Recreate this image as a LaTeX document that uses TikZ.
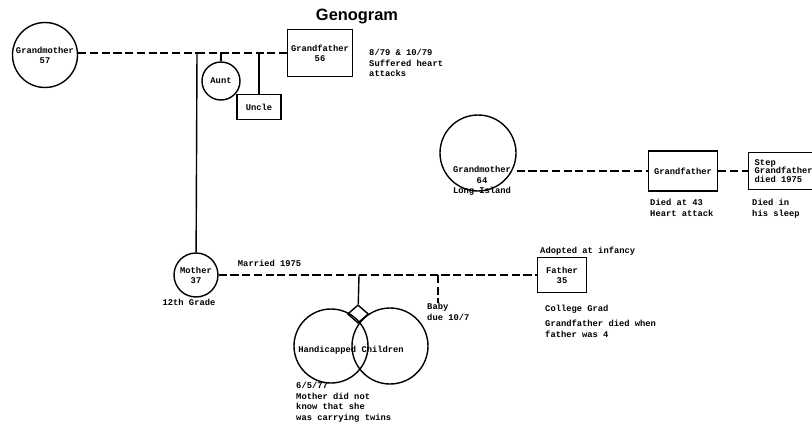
\documentclass[tikz,border=0pt]{standalone}
\usepackage{fontspec}
\setmainfont{Liberation Sans}
\setmonofont{Liberation Mono}
\usetikzlibrary{shapes.geometric,positioning}

\begin{document}
\begin{tikzpicture}[
    x=0.03cm,y=-0.03cm,
    female/.style={draw,circle,line width=1.2pt,inner sep=0pt,align=center,
        font=\fontsize{7.5}{8.5}\selectfont\ttfamily\bfseries},
    male/.style={draw,rectangle,line width=1.2pt,inner sep=2pt,align=center,
        font=\fontsize{7.5}{8.5}\selectfont\ttfamily\bfseries},
    note/.style={align=left,inner sep=0pt,
        font=\fontsize{7.5}{9}\selectfont\ttfamily\bfseries},
    tie/.style={line width=1.2pt,dash pattern=on 7pt off 3pt},
    kin/.style={line width=1.2pt}
]
\useasboundingbox (0,0) rectangle (812,424);

\node[font=\fontsize{14}{16}\selectfont\bfseries] (title) at (357,17) {Genogram};

% mother's parents
\node[female,minimum size=1.95cm] (gm57) at (45,55) {Grandmother\\57};
\node[male,minimum width=1.95cm,minimum height=1.41cm] (gf56) at (320,53) {Grandfather\\56};
\node[note,anchor=north west] (gf56n) at (369,49) {8/79 \& 10/79\\Suffered heart\\attacks};
\coordinate (jm) at (197,53);
\node[female,minimum size=1.14cm] (aunt) at (221,81) {Aunt};
\node[male,minimum width=1.32cm,minimum height=0.75cm] (uncle) at (259,107) {Uncle};
\draw[tie] (gm57.east |- jm) -- (jm);
\draw[tie] (jm) -- (gf56);
\draw[kin] (aunt.north |- jm) -- (aunt);
\draw[kin] (uncle.north |- jm) -- (uncle);

% father's parents
\node[female,minimum size=2.28cm] (gm64) at (478,153) {};
\node[note,align=center] (gm64t) at (482,181) {Grandmother\\64\\Long Island};
\node[male,minimum width=2.07cm,minimum height=1.2cm] (gf43) at (683,171) {Grandfather};
\node[note,anchor=north west] (gf43n) at (650,199) {Died at 43\\Heart attack};
\node[male,align=left,anchor=west,minimum width=2.1cm,minimum height=1.1cm,
    font=\fontsize{7.5}{7.5}\selectfont\ttfamily\bfseries] (stepgf) at (748,171)
    {Step\\Grandfather\\died 1975};
\node[note,anchor=north west] (stepgfn) at (752,199) {Died in\\his sleep};
\draw[tie] (gm64.east |- gf43) -- (gf43);
\draw[tie] (gf43) -- (stepgf);

% parents
\node[female,minimum size=1.32cm] (mother) at (196,275) {Mother\\37};
\node[note] (motherg) at (189,302) {12th Grade};
\node[male,minimum width=1.47cm,minimum height=1.05cm] (father) at (562,275) {Father\\35};
\node[note,anchor=west] (fathera) at (540,251) {Adopted at infancy};
\node[note,anchor=west] (fatherc) at (545,309) {College Grad};
\node[note,anchor=north west] (fatherg) at (545,320) {Grandfather died when\\father was 4};
\draw[kin] (jm) -- (mother);
\draw[tie] (mother) -- node[note,above=7pt,pos=.16] {Married 1975} (father);

% children
\coordinate (jt) at (359,275);
\node[draw,diamond,line width=1.2pt,inner sep=0pt,minimum width=0.63cm,
    minimum height=0.55cm] (zyg) at (358,314) {};
\node[female,minimum size=2.22cm] (twina) at (331,346) {};
\node[female,minimum size=2.28cm] (twinb) at (390,346) {};
\node[note] (twins) at (351,350) {Handicapped Children};
\node[note,anchor=north west] (twinsn) at (296,382) {6/5/77\\Mother did not\\know that she\\was carrying twins};
\draw[kin] (jt) -- (zyg);
\coordinate (jb) at (438,275);
\node[note,anchor=north west] (baby) at (427,303) {Baby\\due 10/7};
\draw[tie] (jb) -- (jb |- baby.north);
\end{tikzpicture}
\end{document}
